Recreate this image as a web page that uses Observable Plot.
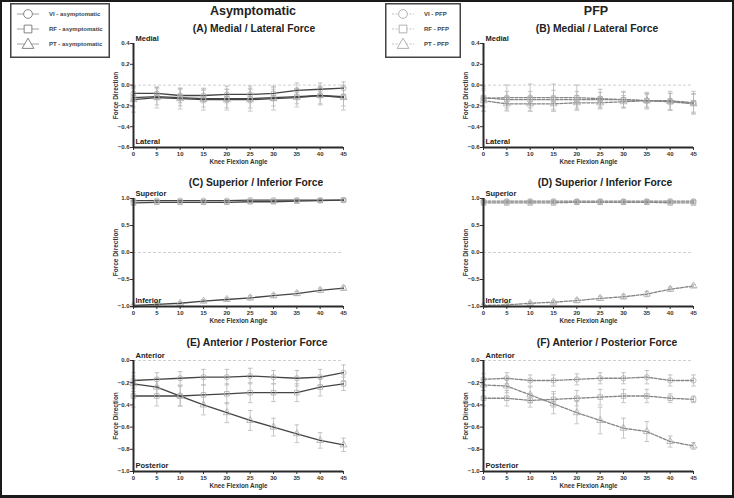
<!DOCTYPE html>
<html><head><meta charset="utf-8">
<script src="https://cdn.jsdelivr.net/npm/d3@7"></script>
<script src="https://cdn.jsdelivr.net/npm/@observablehq/plot@0.6"></script>
<style>
html,body{margin:0;padding:0;background:#fff;}
#fig{position:relative;width:734px;height:498px;font-family:"Liberation Sans",Arial,sans-serif;overflow:hidden;background:#fff}
.frame{position:absolute;left:0;top:0;width:734px;height:498px;box-sizing:border-box;border:2px solid #1a1a1a;border-bottom-width:3px;pointer-events:none}
.t{position:absolute;font-weight:bold;color:#222;white-space:nowrap;transform:translate(-50%,-50%);}
.p{position:absolute}
.p svg{overflow:visible}
</style></head><body><div id="fig"></div>
<script>
// ---------- data ----------
const angles = [0, 5, 10, 15, 20, 25, 30, 35, 40, 45];
const seriesNames = ["VI", "RF", "PT"];
const groupTitles = ["Asymptomatic", "PFP"];
const legendA = ["VI - asymptomatic", "RF - asymptomatic", "PT - asymptomatic"];
const legendB = ["VI - PFP", "RF - PFP", "PT - PFP"];
const panelTitles = ["(A) Medial / Lateral Force", "(B) Medial / Lateral Force",
  "(C) Superior / Inferior Force", "(D) Superior / Inferior Force",
  "(E) Anterior / Posterior Force", "(F) Anterior / Posterior Force"];
const xLabel = "Knee Flexion Angle";
const yLabel = "Force Direction";

// Medial / Lateral
const A_VI = [-0.08, -0.08, -0.10, -0.10, -0.09, -0.09, -0.08, -0.05, -0.04, -0.03];
const A_RF = [-0.12, -0.11, -0.12, -0.13, -0.13, -0.13, -0.12, -0.11, -0.10, -0.11];
const A_PT = [-0.14, -0.12, -0.13, -0.14, -0.14, -0.14, -0.13, -0.12, -0.10, -0.12];
const A_VI_sd = [0.07, 0.06, 0.07, 0.07, 0.08, 0.08, 0.07, 0.07, 0.06, 0.06];
const A_RF_sd = [0.09, 0.08, 0.08, 0.08, 0.09, 0.09, 0.08, 0.07, 0.08, 0.09];
const A_PT_sd = [0.12, 0.10, 0.10, 0.10, 0.10, 0.11, 0.11, 0.09, 0.09, 0.12];

const B_VI = [-0.13, -0.12, -0.12, -0.12, -0.12, -0.13, -0.14, -0.15, -0.15, -0.17];
const B_RF = [-0.12, -0.14, -0.14, -0.14, -0.14, -0.14, -0.14, -0.15, -0.16, -0.17];
const B_PT = [-0.15, -0.18, -0.18, -0.18, -0.17, -0.17, -0.16, -0.15, -0.16, -0.18];
const B_VI_sd = [0.12, 0.12, 0.13, 0.13, 0.12, 0.09, 0.08, 0.08, 0.09, 0.11];
const B_RF_sd = [0.09, 0.08, 0.08, 0.09, 0.08, 0.07, 0.07, 0.07, 0.08, 0.09];
const B_PT_sd = [0.10, 0.07, 0.07, 0.07, 0.07, 0.06, 0.06, 0.06, 0.08, 0.09];

// Superior / Inferior
const C_VI = [0.96, 0.96, 0.96, 0.96, 0.96, 0.97, 0.97, 0.97, 0.97, 0.97];
const C_RF = [0.92, 0.93, 0.93, 0.93, 0.93, 0.94, 0.94, 0.95, 0.96, 0.97];
const C_PT = [-0.98, -0.96, -0.94, -0.90, -0.87, -0.84, -0.80, -0.76, -0.70, -0.66];
const C_VI_sd = [0.02, 0.02, 0.02, 0.02, 0.02, 0.02, 0.02, 0.02, 0.02, 0.02];
const C_RF_sd = [0.04, 0.03, 0.03, 0.03, 0.03, 0.03, 0.03, 0.03, 0.03, 0.03];
const C_PT_sd = [0.02, 0.02, 0.03, 0.03, 0.03, 0.04, 0.04, 0.04, 0.04, 0.04];

const D_VI = [0.95, 0.95, 0.95, 0.95, 0.95, 0.95, 0.95, 0.95, 0.95, 0.95];
const D_RF = [0.92, 0.92, 0.92, 0.92, 0.93, 0.93, 0.93, 0.93, 0.92, 0.92];
const D_PT = [-0.98, -0.97, -0.94, -0.92, -0.89, -0.85, -0.82, -0.77, -0.68, -0.62];
const D_VI_sd = [0.03, 0.03, 0.03, 0.03, 0.03, 0.03, 0.03, 0.03, 0.03, 0.03];
const D_RF_sd = [0.04, 0.04, 0.04, 0.04, 0.04, 0.04, 0.04, 0.04, 0.04, 0.04];
const D_PT_sd = [0.02, 0.02, 0.03, 0.03, 0.04, 0.04, 0.04, 0.05, 0.04, 0.03];

// Anterior / Posterior
const E_VI = [-0.18, -0.17, -0.16, -0.15, -0.15, -0.14, -0.15, -0.16, -0.15, -0.11];
const E_RF = [-0.32, -0.32, -0.32, -0.31, -0.30, -0.29, -0.29, -0.29, -0.24, -0.21];
const E_PT = [-0.21, -0.24, -0.32, -0.40, -0.47, -0.54, -0.60, -0.66, -0.72, -0.76];
const E_VI_sd = [0.07, 0.06, 0.06, 0.07, 0.07, 0.07, 0.06, 0.07, 0.07, 0.07];
const E_RF_sd = [0.10, 0.09, 0.09, 0.09, 0.09, 0.09, 0.08, 0.08, 0.08, 0.06];
const E_PT_sd = [0.07, 0.08, 0.09, 0.09, 0.09, 0.09, 0.08, 0.08, 0.07, 0.06];

const F_VI = [-0.17, -0.16, -0.18, -0.18, -0.17, -0.16, -0.16, -0.15, -0.18, -0.18];
const F_RF = [-0.34, -0.34, -0.36, -0.35, -0.34, -0.33, -0.32, -0.32, -0.34, -0.35];
const F_PT = [-0.22, -0.23, -0.31, -0.39, -0.47, -0.54, -0.61, -0.64, -0.73, -0.77];
const F_VI_sd = [0.05, 0.05, 0.05, 0.05, 0.05, 0.05, 0.05, 0.06, 0.05, 0.05];
const F_RF_sd = [0.07, 0.07, 0.06, 0.07, 0.07, 0.07, 0.06, 0.06, 0.04, 0.03];
const F_PT_sd = [0.05, 0.06, 0.07, 0.09, 0.10, 0.12, 0.09, 0.09, 0.05, 0.03];

const rowDomains = [[-0.6, 0.4], [-1.0, 1.0], [-1.0, 0.0]];
const rowTicks = [[-0.6, -0.4, -0.2, 0.0, 0.2, 0.4], [-1.0, -0.5, 0.0, 0.5, 1.0], [-1.0, -0.8, -0.6, -0.4, -0.2, 0.0]];
const rowTopLabels = ["Medial", "Superior", "Anterior"];
const rowBottomLabels = ["Lateral", "Inferior", "Posterior"];

// ---------- layout ----------
const fig = document.getElementById("fig");
const FONT = '"Liberation Sans", Arial, sans-serif';
const colLeft = [95, 445];
const rowTop = [35, 190, 352];
const rowPlotH = [104, 108, 111];
const M = {top: 8, left: 38, right: 12, bottom: 22};

function addText(txt, x, y, size) {
  const d = document.createElement("div");
  d.className = "t";
  d.textContent = txt;
  d.style.left = x + "px"; d.style.top = y + "px"; d.style.fontSize = size + "px";
  fig.appendChild(d);
}

function makePanel(col, row, series) {
  const rows = [];
  series.forEach((s, i) => s.mean.forEach((m, j) => rows.push({series: seriesNames[i], angle: angles[j], mean: m, sd: s.sd[j]})));
  const dashed = col === 1;
  const lineColor = dashed ? "#858585" : "#444";
  const errColor = "#b8b8b8";
  const chart = Plot.plot({
    width: M.left + 210 + M.right,
    height: M.top + rowPlotH[row] + M.bottom,
    marginTop: M.top, marginLeft: M.left, marginRight: M.right, marginBottom: M.bottom,
    style: {fontFamily: FONT, fontSize: "6px", fontWeight: "bold", color: "#333", background: "transparent"},
    x: {domain: [0, 45]},
    y: {domain: rowDomains[row]},
    symbol: {domain: seriesNames, range: ["circle", "square", "triangle"]},
    marks: [
      Plot.ruleY([0], {stroke: "#cfcfcf", strokeDasharray: "3,2", strokeWidth: 1}),
      Plot.ruleX(rows, {x: "angle", y1: d => d.mean - d.sd, y2: d => d.mean + d.sd, stroke: errColor, strokeWidth: 0.8}),
      Plot.link(rows, {x1: d => d.angle - 0.5, x2: d => d.angle + 0.5, y1: d => d.mean + d.sd, y2: d => d.mean + d.sd, stroke: errColor, strokeWidth: 0.8}),
      Plot.link(rows, {x1: d => d.angle - 0.5, x2: d => d.angle + 0.5, y1: d => d.mean - d.sd, y2: d => d.mean - d.sd, stroke: errColor, strokeWidth: 0.8}),
      Plot.line(rows, {x: "angle", y: "mean", z: "series", stroke: lineColor, strokeWidth: 1.3, strokeDasharray: dashed ? "3,1.5" : null}),
      Plot.dot(rows, {x: "angle", y: "mean", symbol: "series", r: 2.6, stroke: "#ababab", fill: "none", strokeWidth: 0.8}),
      Plot.axisX({ticks: angles, tickSize: 3, tickPadding: 1, tickFormat: d => String(d), label: null, stroke: "#333"}),
      Plot.axisY({ticks: rowTicks[row], tickSize: 3, tickPadding: 1, tickFormat: d3.format(".1f"), label: null, stroke: "#333"}),
      Plot.text([xLabel], {frameAnchor: "bottom", textAnchor: "middle", lineAnchor: "middle", dy: 14, fontSize: 6.3, fontWeight: "bold", fill: "#333"}),
      Plot.text([yLabel], {frameAnchor: "left", textAnchor: "middle", lineAnchor: "middle", rotate: -90, dx: -18, fontSize: 6.5, fontWeight: "bold", fill: "#333"}),
      Plot.ruleX([0], {stroke: "#2a2a2a", strokeWidth: 2}),
      Plot.ruleY([rowDomains[row][0]], {stroke: "#2a2a2a", strokeWidth: 2}),
      Plot.text([rowTopLabels[row]], {frameAnchor: "top-left", textAnchor: "start", lineAnchor: "middle", dx: 2, dy: -5, fontSize: 7.5, fontWeight: "bold", fill: "#222"}),
      Plot.text([rowBottomLabels[row]], {frameAnchor: "bottom-left", textAnchor: "start", lineAnchor: "middle", dx: 2, dy: -6, fontSize: 7.5, fontWeight: "bold", fill: "#222"})
    ]
  });
  const wrap = document.createElement("div");
  wrap.className = "p";
  wrap.style.left = colLeft[col] + "px";
  wrap.style.top = rowTop[row] + "px";
  wrap.appendChild(chart);
  fig.appendChild(wrap);
}

const panels = [
  [0, 0, [{mean: A_VI, sd: A_VI_sd}, {mean: A_RF, sd: A_RF_sd}, {mean: A_PT, sd: A_PT_sd}]],
  [1, 0, [{mean: B_VI, sd: B_VI_sd}, {mean: B_RF, sd: B_RF_sd}, {mean: B_PT, sd: B_PT_sd}]],
  [0, 1, [{mean: C_VI, sd: C_VI_sd}, {mean: C_RF, sd: C_RF_sd}, {mean: C_PT, sd: C_PT_sd}]],
  [1, 1, [{mean: D_VI, sd: D_VI_sd}, {mean: D_RF, sd: D_RF_sd}, {mean: D_PT, sd: D_PT_sd}]],
  [0, 2, [{mean: E_VI, sd: E_VI_sd}, {mean: E_RF, sd: E_RF_sd}, {mean: E_PT, sd: E_PT_sd}]],
  [1, 2, [{mean: F_VI, sd: F_VI_sd}, {mean: F_RF, sd: F_RF_sd}, {mean: F_PT, sd: F_PT_sd}]]
];
panels.forEach(p => makePanel(...p));

// titles
addText(groupTitles[0], 253, 11, 12.5);
addText(groupTitles[1], 596, 11, 12.5);
const titlePos = [[254, 28], [597, 28], [256, 182], [605, 182], [257, 342], [607, 342]];
panelTitles.forEach((t, i) => addText(t, titlePos[i][0], titlePos[i][1], 10.3));

// legends
function legend(labels, x, y, w, h, symX, textX, dashed) {
  const svg = d3.create("svg").attr("width", w).attr("height", h)
    .style("position", "absolute").style("left", x + "px").style("top", y + "px");
  svg.append("rect").attr("x", 0.75).attr("y", 0.75).attr("width", w - 1.5).attr("height", h - 1.5)
    .attr("fill", "#fff").attr("stroke", "#444").attr("stroke-width", 1.5);
  const sym = [d3.symbolCircle, d3.symbolSquare, d3.symbolTriangle];
  labels.forEach((lab, i) => {
    const cy = 11 + i * 15;
    svg.append("line").attr("x1", symX - 11).attr("x2", symX + 11).attr("y1", cy).attr("y2", cy)
      .attr("stroke", dashed ? "#b0b0b0" : "#888").attr("stroke-width", 0.8).attr("stroke-dasharray", dashed ? "2,1.5" : null);
    svg.append("path").attr("d", d3.symbol(sym[i], 60)()).attr("transform", `translate(${symX},${cy + (i === 2 ? 1 : 0)})`)
      .attr("fill", "#fff").attr("stroke", dashed ? "#aaa" : "#777").attr("stroke-width", 0.9);
    svg.append("text").attr("x", textX).attr("y", cy).attr("dy", "0.35em").text(lab)
      .attr("font-family", FONT).attr("font-size", 6).attr("font-weight", "bold").attr("fill", "#444");
  });
  fig.appendChild(svg.node());
}
legend(legendA, 10, 3, 100, 55, 18, 39, false);
legend(legendB, 385, 3, 76, 55, 18, 39, true);

const frame = document.createElement("div");
frame.className = "frame";
fig.appendChild(frame);
</script></body></html>
